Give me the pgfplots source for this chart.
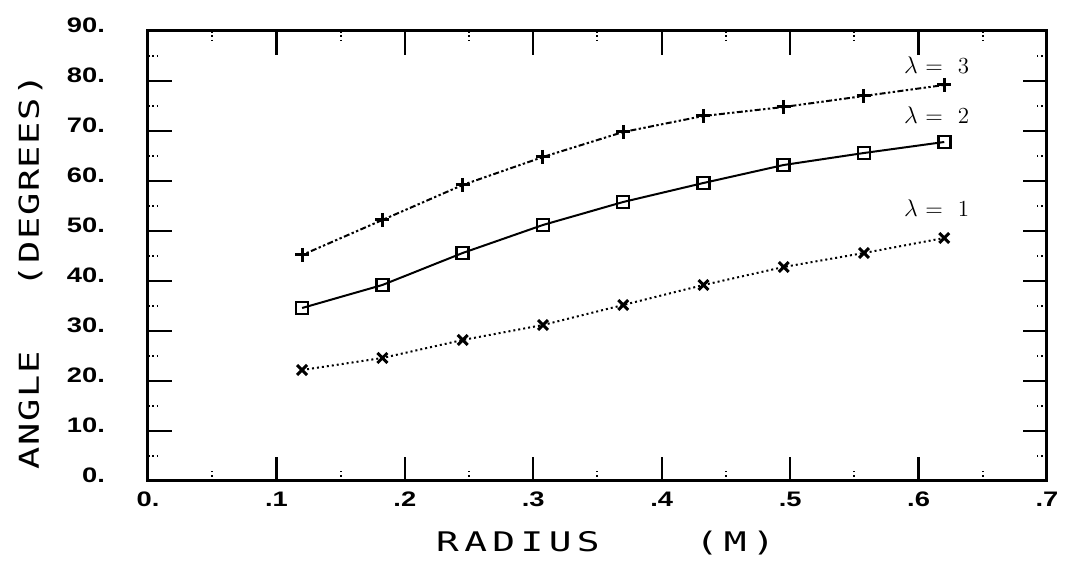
\documentclass[border=0pt]{standalone}
\usepackage{fontspec}
\usepackage{pgfplots}
\pgfplotsset{compat=1.18}
\newfontfamily\tickfont[FakeStretch=1.3]{Liberation Sans}
\newfontfamily\anglefont[FakeStretch=1.35, LetterSpace=6]{DejaVu Sans Mono}
\newfontfamily\radfont[FakeStretch=1.4, LetterSpace=20]{DejaVu Sans Mono}

\pgfplotstableread{
r      l1    l2    l3
0.12   22.2  34.6  45.2
0.1825 24.6  39.2  52.2
0.245  28.2  45.6  59.2
0.3075 31.2  51.2  64.8
0.37   35.2  55.8  69.8
0.4325 39.2  59.6  73.0
0.495  42.8  63.2  74.8
0.5575 45.6  65.6  77.0
0.62   48.6  67.8  79.2
}\angles

\begin{document}
\begin{tikzpicture}
\begin{axis}[
    scale only axis, width=449.5pt, height=225pt,
    xmin=0, xmax=0.7, ymin=0, ymax=90,
    xtick={0,0.1,0.2,0.3,0.4,0.5,0.6,0.7},
    xticklabels={0.,.1,.2,.3,.4,.5,.6,.7},
    ytick={0,10,20,30,40,50,60,70,80,90},
    yticklabels={0.,10.,20.,30.,40.,50.,60.,70.,80.,90.},
    minor x tick num=1, minor y tick num=1,
    tick align=inside,
    axis line style={line width=1.5pt},
    major tick length=12pt, minor tick length=5pt,
    major tick style={line width=1.2pt, black},
    minor tick style={line width=1pt, dash pattern=on 1pt off 1.2pt, black},
    ticklabel style={font=\tickfont\bfseries\fontsize{10.5}{12}\selectfont},
    yticklabel style={xshift=-18pt, yshift=3pt},
    xticklabel style={yshift=-2pt},
    xlabel={\radfont\fontsize{13.5}{16}\selectfont RADIUS\hspace{48pt}(M)},
    ylabel={\anglefont\fontsize{13.7}{16}\selectfont ANGLE\hspace{32pt}(DEGREES)},
    xlabel style={at={(axis description cs:0.5,-0.138)}, anchor=center, xshift=4pt},
    ylabel style={at={(axis description cs:-0.131,0.465)}, anchor=center},
    clip=false,
]
\addplot[black, line width=1pt, dash pattern=on 1.2pt off 1.2pt on 1.2pt off 1.2pt on 3pt off 1.2pt,
    mark=+, mark size=3.5pt, mark options={solid, line width=1.5pt}] table[x=r, y=l3] {\angles};
\addplot[black, line width=1pt,
    mark=square, mark size=3pt, mark options={solid, line width=1.3pt}] table[x=r, y=l2] {\angles};
\addplot[black, line width=1pt, dash pattern=on 1pt off 1.5pt,
    mark=x, mark size=3.5pt, mark options={solid, line width=1.5pt}] table[x=r, y=l1] {\angles};
\node[font=\fontsize{11.5}{13}\selectfont] at (axis cs:0.614,83.2) {$\lambda$ = \ 3};
\node[font=\fontsize{11.5}{13}\selectfont] at (axis cs:0.614,73.2) {$\lambda$ = \ 2};
\node[font=\fontsize{11.5}{13}\selectfont] at (axis cs:0.614,54.6) {$\lambda$ = \ 1};
\end{axis}
\pgfresetboundingbox
\path (current axis.south west) ++(-74pt,-45.5pt) rectangle ++(535.5pt,286pt);
\end{tikzpicture}
\end{document}
